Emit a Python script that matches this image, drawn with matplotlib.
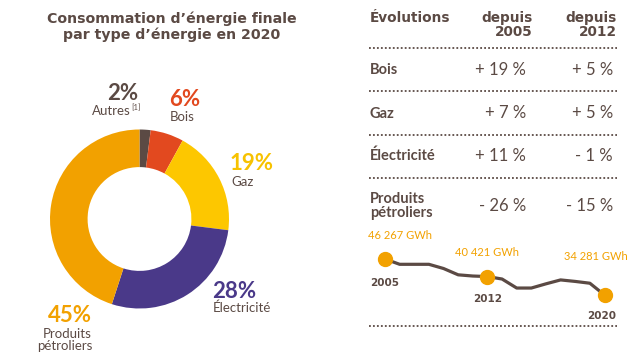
import matplotlib
matplotlib.use("Agg")
import matplotlib.pyplot as plt

plt.rcParams['font.family'] = ['Lato', 'DejaVu Sans']
HEAVY = ['DejaVu Sans']

# ---- data ----
energy_labels = ['Autres', 'Bois', 'Gaz', 'Électricité', 'Produits\npétroliers']
energy_shares = [2, 6, 19, 28, 45]
energy_colors = ['#5b4a44', '#e2491f', '#fdc700', '#4a3989', '#f2a100']
pct_colors = ['#5b4a44', '#e2491f', '#f7c200', '#4a3989', '#f2a100']

table_rows = ['Bois', 'Gaz', 'Électricité', 'Produits\npétroliers']
since_2005 = [19, 7, 11, -26]
since_2012 = [5, 5, -1, -15]

years = list(range(2005, 2021))
petro_gwh = [46267, 44500, 44500, 44500, 43100, 41000, 40600, 40421,
             39600, 36600, 36600, 38000, 39300, 38800, 38200, 34281]
highlight_years = [2005, 2012, 2020]

TXT = '#5b4a44'
W, H = 640, 357

fig = plt.figure(figsize=(W / 100, H / 100), dpi=100)
ov = fig.add_axes([0, 0, 1, 1])
ov.set_xlim(0, W)
ov.set_ylim(H, 0)
ov.axis('off')

# ---- title ----
ov.text(172, 19, "Consommation d’énergie finale", ha='center', va='center',
        fontsize=10.2, fontweight='bold', color=TXT, family=HEAVY)
ov.text(172, 35, "par type d’énergie en 2020", ha='center', va='center',
        fontsize=10.2, fontweight='bold', color=TXT, family=HEAVY)

# ---- donut ----
cx, cy, R = 139.5, 219, 89.5
pax = fig.add_axes([(cx - R) / W, (H - cy - R) / H, 2 * R / W, 2 * R / H])
pax.pie(energy_shares, colors=energy_colors, startangle=90, counterclock=False,
        radius=1, wedgeprops=dict(width=0.42, edgecolor='none'))
pax.set_xlim(-1, 1)
pax.set_ylim(-1, 1)
pax.axis('off')

pfs = 16
lfs = 9.5
# Autres
ov.text(123, 94, f"{energy_shares[0]}%", ha='center', va='center', fontsize=pfs,
        fontweight='bold', color=pct_colors[0])
ov.text(131, 111, energy_labels[0], ha='right', va='center', fontsize=lfs, color=TXT)
ov.text(131.5, 108, "[1]", ha='left', va='center', fontsize=5.5, color=TXT)
# Bois
ov.text(185, 100, f"{energy_shares[1]}%", ha='center', va='center', fontsize=pfs,
        fontweight='bold', color=pct_colors[1])
ov.text(182, 117, energy_labels[1], ha='center', va='center', fontsize=lfs, color=TXT)
# Gaz
ov.text(230, 164, f"{energy_shares[2]}%", ha='left', va='center', fontsize=pfs,
        fontweight='bold', color=pct_colors[2])
ov.text(231, 182, energy_labels[2], ha='left', va='center', fontsize=lfs, color=TXT)
# Électricité
ov.text(212, 291, f"{energy_shares[3]}%", ha='left', va='center', fontsize=pfs,
        fontweight='bold', color=pct_colors[3])
ov.text(213, 308, energy_labels[3], ha='left', va='center', fontsize=lfs, color=TXT)
# Produits pétroliers
ov.text(92, 315, f"{energy_shares[4]}%", ha='right', va='center', fontsize=pfs,
        fontweight='bold', color=pct_colors[4])
ov.text(92, 340, energy_labels[4], ha='right', va='center', fontsize=lfs, color=TXT,
        linespacing=1.05)

# ---- table ----
hfs = 9.8
ov.text(370, 18, "Évolutions", ha='left', va='center', fontsize=hfs,
        fontweight='bold', color=TXT, family=HEAVY)
ov.text(533, 25, "depuis\n2005", ha='right', va='center', fontsize=hfs,
        fontweight='bold', color=TXT, linespacing=0.95, multialignment='right',
        family=HEAVY)
ov.text(617, 25, "depuis\n2012", ha='right', va='center', fontsize=hfs,
        fontweight='bold', color=TXT, linespacing=0.95, multialignment='right',
        family=HEAVY)

for yline in [47.5, 91, 135, 178, 326]:
    ov.plot([369, 617], [yline, yline], color=TXT, lw=1.3, ls=(0, (1, 1.2)))

row_y = [70, 113.5, 156, 206]
fmt = lambda v: f"{'+' if v > 0 else '-'} {abs(v)} %"
for lab, a, b, y in zip(table_rows, since_2005, since_2012, row_y):
    ov.text(370, y, lab, ha='left', va='center', fontsize=10.5, fontweight='bold',
            color=TXT, linespacing=1.0)
    ov.text(526, y, fmt(a), ha='right', va='center', fontsize=12, color=TXT)
    ov.text(613, y, fmt(b), ha='right', va='center', fontsize=12, color=TXT)

# ---- line chart ----
x0, x1 = 385, 604.5
y_top, y_bot = 259, 295
lax = fig.add_axes([x0 / W, (H - y_bot) / H, (x1 - x0) / W, (y_bot - y_top) / H])
lax.set_xlim(years[0], years[-1])
lax.set_ylim(min(petro_gwh), max(petro_gwh))
lax.axis('off')
lax.plot(years, petro_gwh, color=TXT, lw=2.3, clip_on=False, solid_capstyle='round')
hv = [petro_gwh[years.index(y)] for y in highlight_years]
lax.plot(highlight_years, hv, 'o', ms=10, color='#f2a100', clip_on=False, zorder=3)

val_offsets = [(-12, 17, 'left'), (0, 17, 'center'), (-6, 28, 'center')]
year_offsets = [(0, -17), (0, -16), (-2, -15)]
for yr, v, (dx, dy, ha), (ex, ey) in zip(highlight_years, hv, val_offsets, year_offsets):
    s = f"{v:,}".replace(',', ' ') + " GWh"
    lax.annotate(s, (yr, v), xytext=(dx, dy), textcoords='offset points',
                 ha=ha, va='center', fontsize=8, color='#f2a100', annotation_clip=False)
    lax.annotate(str(yr), (yr, v), xytext=(ex, ey), textcoords='offset points',
                 ha='center', va='center', fontsize=7.5, fontweight='bold', color=TXT,
                 family=HEAVY, annotation_clip=False)

fig.savefig('out.png', dpi=100)
